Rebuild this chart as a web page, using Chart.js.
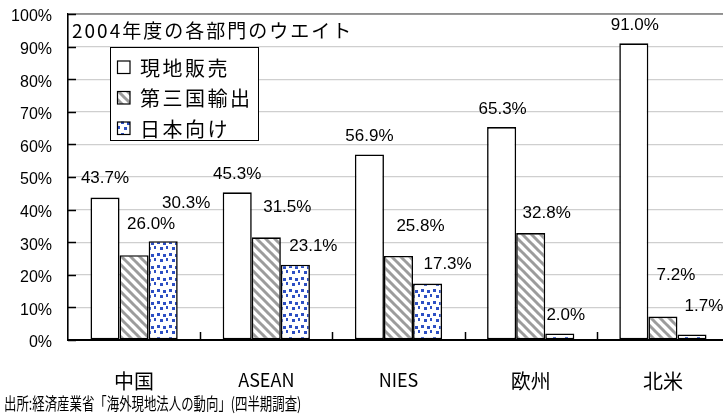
<!DOCTYPE html>
<html lang="ja">
<head>
  <meta charset="UTF-8">
  <title>2004年度の各部門のウエイト</title>
  <script src="https://cdn.jsdelivr.net/npm/chart.js"></script>
  <style>
    html, body { margin: 0; padding: 0; background: #fff; overflow: hidden; }
    #chart { display: block; }
  </style>
</head>
<body>
  <canvas id="chart" width="730" height="416"></canvas>

  <script>
    // data
    const regions = ['中国', 'ASEAN', 'NIES', '欧州', '北米'];
    const seriesNames = ['現地販売', '第三国輸出', '日本向け'];
    const localSales = [43.7, 45.3, 56.9, 65.3, 91.0];
    const thirdCountry = [26.0, 31.5, 25.8, 32.8, 7.2];
    const toJapan = [30.3, 23.1, 17.3, 2.0, 1.7];
    const yTicks = [0, 10, 20, 30, 40, 50, 60, 70, 80, 90, 100];

    const chartTitle = '2004年度の各部門のウエイト';
    const sourceNote = '出所:経済産業省「海外現地法人の動向」(四半期調査)';

    // where each value label sits relative to the top of its bar [dx, dy]
    const labelNudge = [
      [[0, -19], [0, -18], [0, -18], [1, -18], [1, -18]],
      [[17, -31], [21, -30], [22, -30], [16, -20], [13, -41]],
      [[23, -38], [18, -18], [20, -19], [6, -18], [12, -28]]
    ];

    const JP = '"Noto Sans CJK JP", sans-serif';
    const LATIN = '"Liberation Sans", Arial, sans-serif';

    // fill patterns
    function hatchPattern() {
      const c = document.createElement('canvas');
      c.width = 9; c.height = 9;
      const g = c.getContext('2d');
      g.fillStyle = '#fff';
      g.fillRect(0, 0, 9, 9);
      g.strokeStyle = '#9c9c9c';
      g.lineWidth = 3;
      for (const off of [-9, 0, 9]) {
        g.beginPath();
        g.moveTo(off - 1, -1);
        g.lineTo(off + 10, 10);
        g.stroke();
      }
      return g.createPattern(c, 'repeat');
    }

    function dotPattern() {
      const c = document.createElement('canvas');
      c.width = 12; c.height = 12;
      const g = c.getContext('2d');
      g.fillStyle = '#fff';
      g.fillRect(0, 0, 12, 12);
      g.fillStyle = '#2d4fc4';
      const dots = [[1, 1], [7, 2], [4, 7], [10, 6]];
      dots.forEach(([x, y]) => g.fillRect(x, y, 3, 3));
      return g.createPattern(c, 'repeat');
    }

    // title, legend box, inner tick marks and source line
    const decorations = {
      id: 'decorations',
      afterDraw(chart) {
        const ctx = chart.ctx;
        const area = chart.chartArea;
        const y = chart.scales.y;
        const x = chart.scales.x;
        ctx.save();

        // top frame line
        ctx.strokeStyle = '#7a7a7a';
        ctx.lineWidth = 1.5;
        ctx.beginPath();
        ctx.moveTo(area.left, area.top);
        ctx.lineTo(area.right, area.top);
        ctx.stroke();

        // inward tick marks on both axes
        ctx.strokeStyle = '#000';
        ctx.lineWidth = 1.5;
        yTicks.forEach(v => {
          const py = Math.round(y.getPixelForValue(v)) + 0.5;
          ctx.beginPath();
          ctx.moveTo(area.left, py);
          ctx.lineTo(area.left + 8, py);
          ctx.stroke();
        });
        for (let i = 1; i < regions.length; i++) {
          const px = Math.round((x.getPixelForValue(i - 1) + x.getPixelForValue(i)) / 2) + 0.5;
          ctx.beginPath();
          ctx.moveTo(px, area.bottom);
          ctx.lineTo(px, area.bottom - 8);
          ctx.stroke();
        }

        // chart title inside the plot
        ctx.fillStyle = '#000';
        ctx.font = '19px ' + JP;
        ctx.letterSpacing = '2px';
        ctx.textAlign = 'left';
        ctx.textBaseline = 'middle';
        ctx.fillText(chartTitle, 72, 31);

        // legend box
        ctx.fillStyle = '#fff';
        ctx.fillRect(110, 47, 148, 93);
        ctx.strokeStyle = '#000';
        ctx.lineWidth = 1;
        ctx.strokeRect(110.5, 47.5, 148, 93);
        ctx.font = '20px ' + JP;
        ctx.letterSpacing = '2.5px';
        chart.data.datasets.forEach((ds, i) => {
          const cy = 67 + i * 30.5;
          ctx.fillStyle = ds.backgroundColor;
          ctx.fillRect(117, cy - 6.5, 13, 13);
          ctx.strokeStyle = '#000';
          ctx.lineWidth = 1.2;
          ctx.strokeRect(117.5, cy - 6, 12.5, 12.5);
          ctx.fillStyle = '#000';
          ctx.fillText(ds.label, 140, cy + 1);
        });

        // source line, set in a condensed face
        ctx.letterSpacing = '0px';
        ctx.font = '17px ' + JP;
        ctx.translate(4, 404);
        ctx.scale(0.73, 1);
        ctx.fillText(sourceNote, 0, 0);
        ctx.restore();
      }
    };

    // value labels above the bars
    const valueLabels = {
      id: 'valueLabels',
      afterDatasetsDraw(chart) {
        const ctx = chart.ctx;
        ctx.save();
        ctx.font = '17px ' + LATIN;
        ctx.fillStyle = '#000';
        ctx.textAlign = 'center';
        ctx.textBaseline = 'middle';
        chart.data.datasets.forEach((ds, i) => {
          chart.getDatasetMeta(i).data.forEach((bar, j) => {
            const [dx, dy] = labelNudge[i][j];
            ctx.fillText(ds.data[j].toFixed(1) + '%', bar.x + dx, bar.y + dy);
          });
        });
        ctx.restore();
      }
    };

    const ctx = document.getElementById('chart').getContext('2d');
    const fills = ['#ffffff', hatchPattern(), dotPattern()];

    new Chart(ctx, {
      type: 'bar',
      data: {
        labels: regions,
        datasets: [localSales, thirdCountry, toJapan].map((vals, i) => ({
          label: seriesNames[i],
          data: vals,
          backgroundColor: fills[i],
          borderColor: '#000',
          borderWidth: 1.6,
          borderSkipped: false,
          categoryPercentage: 0.66,
          barPercentage: 1.0
        }))
      },
      options: {
        responsive: false,
        animation: false,
        devicePixelRatio: 1,
        layout: { padding: { top: 14, left: 0, right: 1, bottom: 0 } },
        plugins: {
          legend: { display: false },
          tooltip: { enabled: false }
        },
        scales: {
          x: {
            grid: { display: false, drawTicks: false },
            border: { color: '#000', width: 2 },
            ticks: {
              color: '#000',
              font: c => ({ family: JP, size: /^[A-Z]+$/.test(regions[c.index]) ? 18 : 20 }),
              padding: 29
            },
            afterFit(scale) { scale.height = 76; }
          },
          y: {
            min: 0,
            max: 100,
            afterBuildTicks(scale) { scale.ticks = yTicks.map(v => ({ value: v })); },
            grid: { color: '#cfcfcf', lineWidth: 1.2, drawTicks: false },
            border: { color: '#000', width: 1.6 },
            ticks: {
              color: '#000',
              font: { family: LATIN, size: 16 },
              padding: 16,
              labelOffset: 3,
              callback: v => v + '%'
            },
            afterFit(scale) {
              scale.width = 68;
              scale.paddingTop = 0;
              scale.paddingBottom = 0;
            }
          }
        }
      },
      plugins: [valueLabels, decorations]
    });
  </script>
</body>
</html>
